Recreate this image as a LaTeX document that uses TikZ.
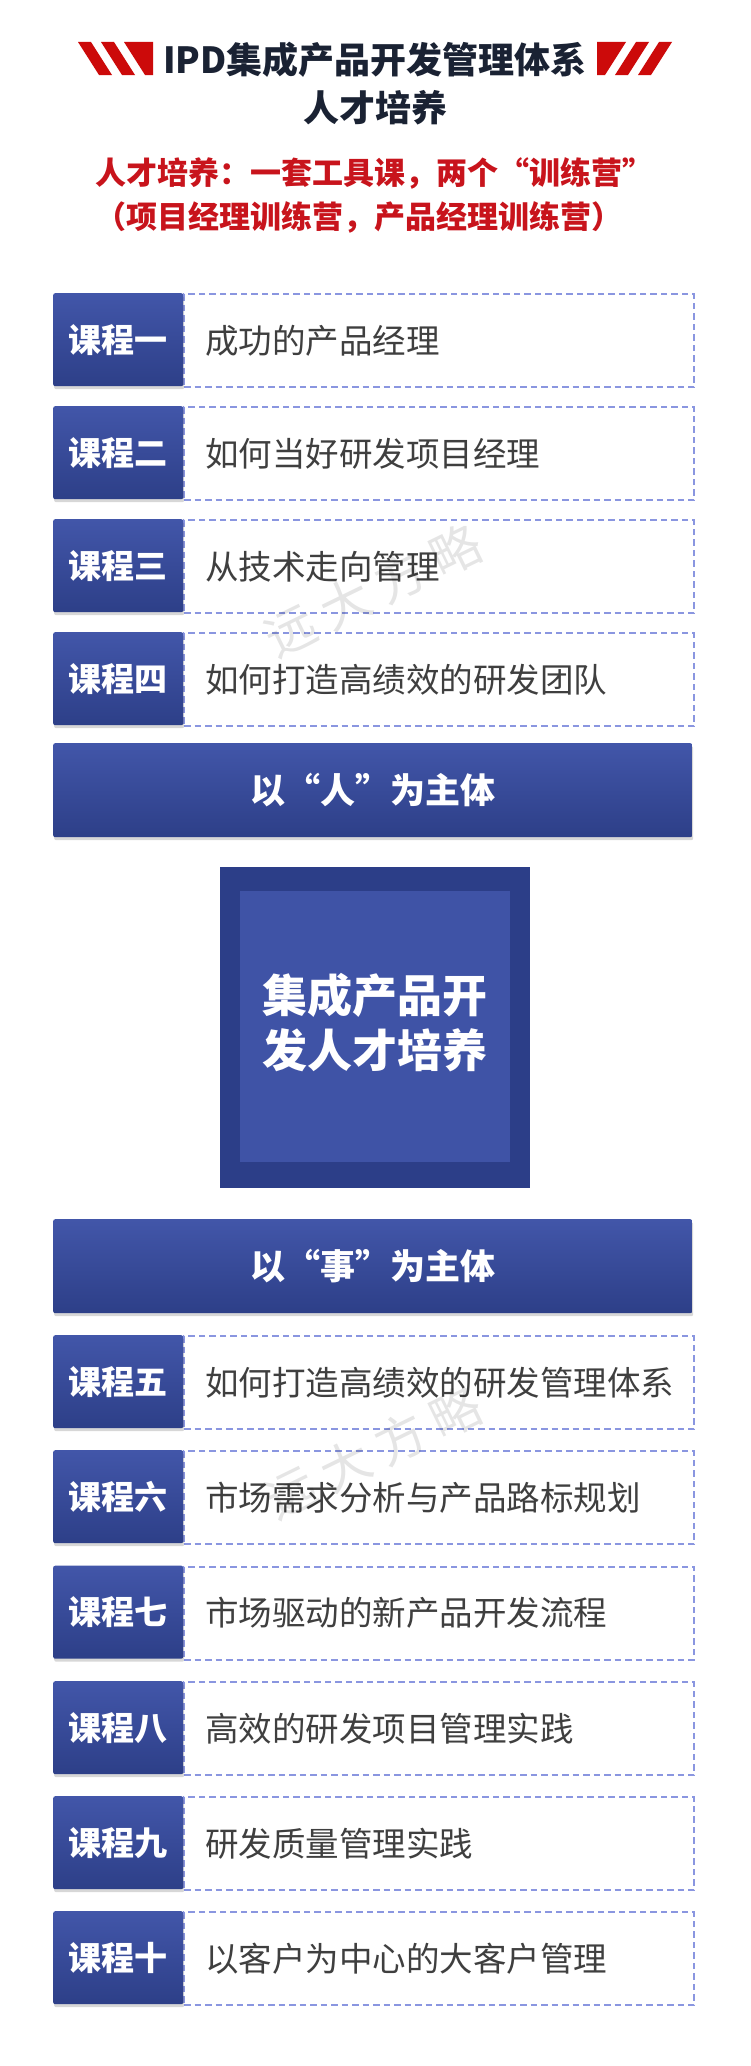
\documentclass[tikz,border=0pt]{standalone}
\usepackage{fontspec}
\setmainfont{Noto Sans CJK SC}
\newfontfamily\wmfont[LetterSpace=22]{Noto Sans CJK SC}
\usetikzlibrary{shadows}
\pgfdeclarelayer{bg}
\pgfsetlayers{bg,main}
\definecolor{cTop}{HTML}{4256A9}
\definecolor{cBot}{HTML}{2D3F88}
\definecolor{cOut}{HTML}{2C3E88}
\definecolor{cIn}{HTML}{3F53A6}
\definecolor{dashC}{HTML}{8A96E0}
\definecolor{lineC}{HTML}{3C4858}
\definecolor{textC}{HTML}{3F3F3F}
\definecolor{redT}{HTML}{C8141C}
\definecolor{redS}{HTML}{CC0A0A}
\definecolor{titleC}{HTML}{1A2233}
\tikzset{
  shadowed/.style={drop shadow={shadow xshift=1pt, shadow yshift=-3pt, opacity=0.22, fill=black!70}},
  lab/.style={rectangle, rounded corners=2pt, minimum width=130pt, minimum height=93pt,
    top color=cTop, bottom color=cBot, draw=none, text=white, inner sep=0pt,
    font=\bfseries\fontsize{33}{36}\selectfont, anchor=north west, shadowed},
  crs/.style={rectangle, draw=dashC, line width=2pt, dash pattern=on 6.5pt off 4pt, fill=white,
    minimum height=93pt, text width=468pt, inner xsep=21pt, inner ysep=0pt, align=left,
    anchor=north west, text=textC, font=\fontsize{33.5}{38}\selectfont},
  banner/.style={rectangle, rounded corners=2pt, minimum width=639pt, minimum height=94pt,
    top color=cTop, bottom color=cBot, draw=none, text=white, inner sep=0pt,
    font=\bfseries\fontsize{35}{40}\selectfont, anchor=north west, shadowed},
  conn/.style={draw=lineC, line width=7pt},
  titletext/.style={text=titleC, font=\bfseries\fontsize{36}{40}\selectfont, anchor=base, inner sep=0pt},
  redtext/.style={text=redT, font=\bfseries\fontsize{31}{36}\selectfont, anchor=base west, inner sep=0pt},
  wm/.style={text=black, opacity=0.1, font=\wmfont\fontsize{50}{54}\selectfont, rotate=26}
}
\begin{document}
\begin{tikzpicture}[x=1pt,y=-1pt]
\useasboundingbox[fill=white] (0,0) rectangle (750,2066);

% title stripes
\fill[redS] (78,42) -- (91,42) -- (112,75) -- (99,75) -- cycle;
\fill[redS] (101,42) -- (114,42) -- (135,75) -- (122,75) -- cycle;
\fill[redS] (124,42) -- (153,42) -- (153,75) -- (145,75) -- cycle;
\begin{scope}[shift={(750,0)}, xscale=-1]
\fill[redS] (78,42) -- (91,42) -- (112,75) -- (99,75) -- cycle;
\fill[redS] (101,42) -- (114,42) -- (135,75) -- (122,75) -- cycle;
\fill[redS] (124,42) -- (153,42) -- (153,75) -- (145,75) -- cycle;
\end{scope}

\node[titletext] (title1) at (375,73.7) {IPD集成产品开发管理体系};
\node[titletext] (title2) at (375,121.7) {人才培养};
\node[redtext] (sub1) at (95,184.8) {人才培养：一套工具课，两个“训练营”};
\node[redtext] (sub2) at (95,228.8) {（项目经理训练营，产品经理训练营）};

% courses
\foreach \y/\n/\l/\t in {293/1/一/成功的产品经理, 406/2/二/如何当好研发项目经理, 519/3/三/从技术走向管理, 632/4/四/如何打造高绩效的研发团队,
  1335/5/五/如何打造高绩效的研发管理体系, 1450/6/六/市场需求分析与产品路标规划, 1565.5/7/七/市场驱动的新产品开发流程,
  1681/8/八/高效的研发项目管理实践, 1796/9/九/研发质量管理实践, 1911/10/十/以客户为中心的大客户管理}{
  \node[crs] (t\n) at (183,\y) {\t};
  \node[lab] (l\n) at (53,\y) {课程\l};
}

\node[banner] (b1) at (53,743) {以“人”为主体};
\node[banner] (b2) at (53,1219) {以“事”为主体};

\node[rectangle, fill=cOut, minimum width=310pt, minimum height=321pt, inner sep=0pt] (core) at (375,1027.5) {};
\node[rectangle, fill=cIn, minimum width=270pt, minimum height=271pt, inner sep=0pt] (inner) at (375,1026.5) {};
\node[text=white, font=\bfseries\fontsize{45}{55}\selectfont, align=center, inner sep=0pt] (coretext) at (375,1022.5) {集成产品开\\发人才培养};

% connectors behind
\coordinate (LL) at ([xshift=27pt]l1.south west);
\coordinate (RR) at ([xshift=-23.5pt]t1.south east);
\begin{pgfonlayer}{bg}
\draw[conn] (LL) -- ([xshift=27pt]l10.north west);
\draw[conn] (RR) -- ([xshift=-23.5pt]t10.north east);
\draw[conn] ([yshift=3.5pt]core.west) -- ([yshift=3.5pt]core.west -| LL);
\draw[conn] ([yshift=3.5pt]core.east) -- ([yshift=3.5pt]core.east -| RR);
\end{pgfonlayer}

% watermarks
\node[wm] (wm1) at (373,590) {远大方略};
\node[wm] (wm2) at (373,1452) {远大方略};
\end{tikzpicture}
\end{document}
